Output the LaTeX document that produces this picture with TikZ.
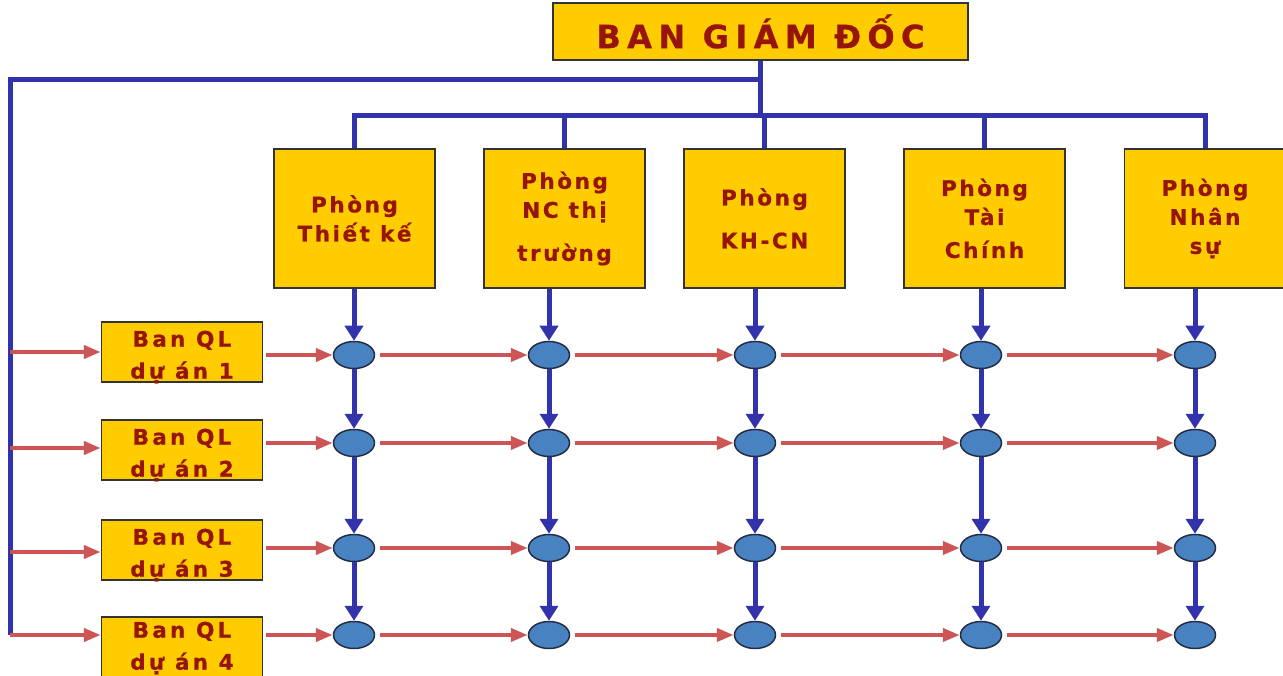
\documentclass[tikz,border=0pt]{standalone}
\usepackage{fontspec}
\newfontfamily\lblfont{DejaVu Sans}[LetterSpace=12,FakeBold=0.8]
\newfontfamily\projfont{DejaVu Sans}[LetterSpace=15,FakeBold=0.8]
\newfontfamily\headfont{DejaVu Sans}[LetterSpace=20,FakeBold=0.8]
\usetikzlibrary{arrows.meta,shapes.geometric}
\definecolor{boxyellow}{RGB}{255,204,0}
\definecolor{txtred}{RGB}{150,20,10}
\definecolor{linkblue}{RGB}{50,50,170}
\definecolor{flowred}{RGB}{205,85,85}
\definecolor{nodeblue}{RGB}{72,130,192}
\definecolor{nodeedge}{RGB}{35,45,70}
\begin{document}
\begin{tikzpicture}[x=1pt,y=-1pt,
  box/.style={draw=black!80, line width=1.5pt, fill=boxyellow, text=txtred, inner sep=0pt, align=center},
  dept/.style={box, minimum width=161pt, minimum height=139pt, font=\lblfont\bfseries\fontsize{21.5}{29}\selectfont},
  proj/.style={box, minimum width=161pt, minimum height=60pt},
  projlabel/.style={text=txtred, inner sep=0pt, align=center, font=\projfont\bfseries\fontsize{21.5}{32}\selectfont},
  head/.style={box, minimum width=415pt, minimum height=57pt, font=\headfont\bfseries\fontsize{32}{36}\selectfont},
  cell/.style={ellipse, draw=nodeedge, line width=1.5pt, fill=nodeblue, minimum width=41pt, minimum height=27pt, inner sep=0pt},
  blueline/.style={draw=linkblue, line width=5pt},
  bluearrow/.style={blueline, -{Triangle[length=15pt,width=18pt]}},
  redarrow/.style={draw=flowred, line width=4pt, -{Triangle[length=17pt,width=13pt]}},
]
\useasboundingbox (0,0) rectangle (1283,676);

% management board and departments
\node[head] (T) at (760.5,31.5) {BAN GIÁM ĐỐC};
\node[dept] (D1) at (354.5,218.5) {Phòng\\Thiết kế};
\node[dept] (D2) at (564.5,218.5) {Phòng\\NC thị\\[14pt]trường};
\node[dept] (D3) at (764.5,218.5) {Phòng\\[14pt]KH-CN};
\node[dept] (D4) at (984.5,218.5) {Phòng\\Tài\\[4pt]Chính};
\node[dept] (D5) at (1205,218.5) {Phòng\\Nhân\\sự};

% project boards
\foreach \r/\y/\s in {1/352/5,2/450/5,3/550/5,4/647/1}{
  \node[proj] (P\r) at (182,\y) {};
  \node[projlabel] (P\r t) at ([yshift=-\s pt]P\r.center) {Ban QL\\dự án \r};
}

% matrix cells: row r, column c
\foreach \r/\y in {1/355,2/443,3/548,4/635}{
  \foreach \c/\x in {1/354,2/549,3/755,4/981,5/1195}{
    \node[cell] (C\r\c) at (\x,\y) {};
  }
}

% tree connectors from the board
\coordinate (bar) at (760.5,116);
\coordinate (fork) at (760.5,80);
\coordinate (corner) at (10,80);
\coordinate (bottom) at (10,635);
\draw[blueline] (T.south) -- (bar);
\draw[blueline] (D1.north) -- (D1.north |- bar) -- (D5.north |- bar) -- (D5.north);
\foreach \d in {2,3,4}{
  \draw[blueline] (D\d.north |- bar) -- (D\d.north);
}
\draw[blueline] (fork) -- (corner) -- (bottom);

% vertical flow down each department column
\foreach \c in {1,...,5}{
  \draw[bluearrow] (D\c.south -| C1\c) -- (C1\c.north);
  \draw[bluearrow] (C1\c.south) -- (C2\c.north);
  \draw[bluearrow] (C2\c.south) -- (C3\c.north);
  \draw[bluearrow] (C3\c.south) -- (C4\c.north);
}

% horizontal flow along each project row
\coordinate (L1) at (10,352);
\coordinate (L2) at (10,448);
\coordinate (L3) at (10,552);
\coordinate (L4) at (10,635);
\foreach \r in {1,...,4}{
  \draw[redarrow] (L\r) -- (L\r -| P\r.west);
  \draw[redarrow, shorten <=3pt] (C\r1 -| P\r.east) -- (C\r1.west);
  \draw[redarrow, shorten <=5pt] (C\r1.east) -- (C\r2.west);
  \draw[redarrow, shorten <=5pt] (C\r2.east) -- (C\r3.west);
  \draw[redarrow, shorten <=5pt] (C\r3.east) -- (C\r4.west);
  \draw[redarrow, shorten <=5pt] (C\r4.east) -- (C\r5.west);
}
\end{tikzpicture}
\end{document}
